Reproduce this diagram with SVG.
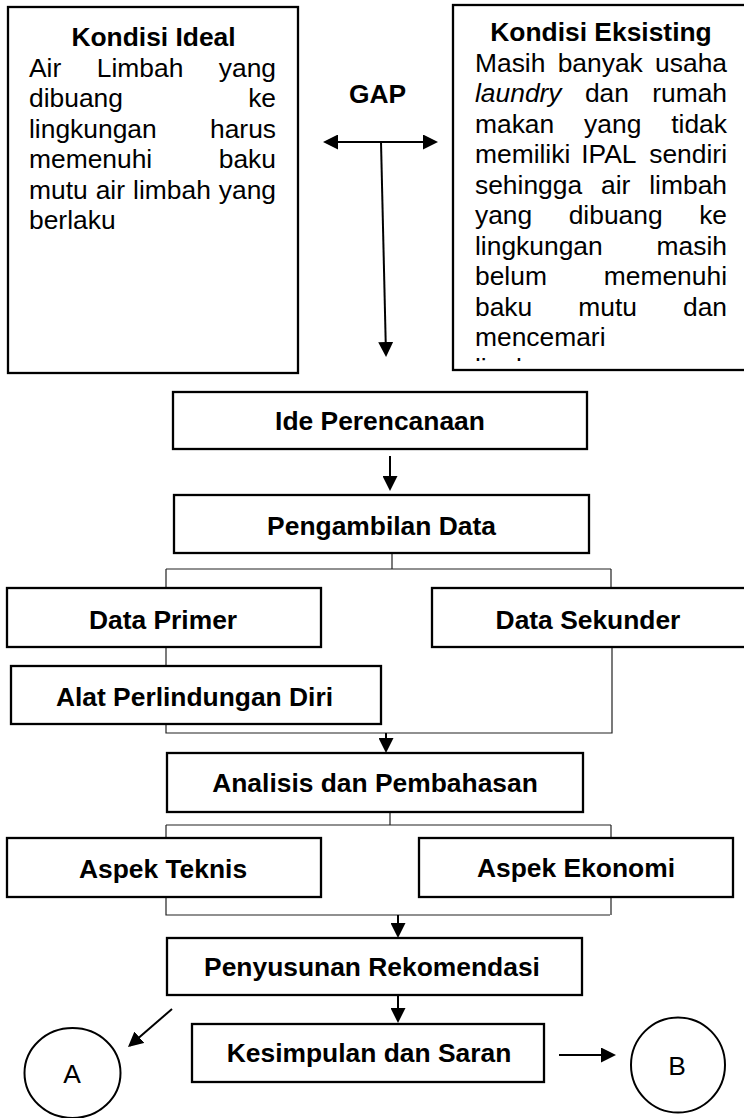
<svg xmlns="http://www.w3.org/2000/svg" width="744" height="1118" viewBox="0 0 744 1118">
<style>
.box{fill:#fff;stroke:#000;stroke-width:2.3}
.t{font-family:"Liberation Sans",Arial,sans-serif;font-size:26.4px;fill:#000}
.b{font-weight:bold;text-anchor:middle}
.e{text-anchor:end}
.thin{fill:none;stroke:#222;stroke-width:1.2}
.arr{fill:none;stroke:#000;stroke-width:2;marker-end:url(#ah)}
</style>
<defs>
<marker id="ah" markerUnits="userSpaceOnUse" markerWidth="15" markerHeight="15" refX="13" refY="7.5" orient="auto-start-reverse">
<path d="M0,0 L15,7.5 L0,15 z" fill="#000"/>
</marker>
<clipPath id="clipEks"><rect x="453" y="0" width="300" height="361"/></clipPath>
</defs>
<rect width="744" height="1118" fill="#fff"/>

<g id="connectors">
<path class="thin" d="M392,553 V569 M166,569 H611 M166,569 V588 M611,569 V588"/>
<path class="thin" d="M166,647 V666"/>
<path class="thin" d="M166,724 V733 H612 V647"/>
<path class="thin" d="M390,812 V825 M166,825 H611 M166,825 V915 H610 M611,825 V915"/>
<line class="arr" x1="325" y1="142" x2="436" y2="142" marker-start="url(#ah)"/>
<line class="arr" x1="381" y1="142" x2="386" y2="355"/>
<line class="arr" x1="390" y1="456" x2="390" y2="489"/>
<line class="arr" x1="386" y1="733" x2="386" y2="751"/>
<line class="arr" x1="398" y1="915" x2="398" y2="936"/>
<line class="arr" x1="398" y1="995" x2="398" y2="1021"/>
<line class="arr" x1="559" y1="1055" x2="614" y2="1055"/>
<line class="arr" x1="172" y1="1009" x2="129.5" y2="1045.7"/>
</g>

<g id="kondisi-ideal">
<rect class="box" x="8" y="7" width="290" height="366"/>
<text class="t b" x="153.5" y="46">Kondisi Ideal</text>
<text class="t" x="29" y="76.5">Air</text><text class="t" x="96.75" y="76.5">Limbah</text><text class="t e" x="276" y="76.5">yang</text>
<text class="t" x="29" y="107">dibuang</text><text class="t e" x="276" y="107">ke</text>
<text class="t" x="29" y="137.5">lingkungan</text><text class="t e" x="276" y="137.5">harus</text>
<text class="t" x="29" y="168">memenuhi</text><text class="t e" x="276" y="168">baku</text>
<text class="t" x="29" y="198.5">mutu</text><text class="t" x="95.7" y="198.5">air</text><text class="t" x="133.1" y="198.5">limbah</text><text class="t e" x="276" y="198.5">yang</text>
<text class="t" x="29" y="229">berlaku</text>
</g>

<g id="gap">
<text class="t b" x="377.5" y="103">GAP</text>
</g>

<g id="kondisi-eksisting">
<rect class="box" x="453" y="5" width="300" height="365"/>
<text class="t b" x="601" y="41">Kondisi Eksisting</text>
<text class="t" x="475" y="71.7">Masih</text><text class="t" x="557.7" y="71.7">banyak</text><text class="t e" x="727" y="71.7">usaha</text>
<text class="t" x="475" y="102.2" font-style="italic">laundry</text><text class="t" x="584.9" y="102.2">dan</text><text class="t e" x="727" y="102.2">rumah</text>
<text class="t" x="475" y="132.7">makan</text><text class="t" x="584.1" y="132.7">yang</text><text class="t e" x="727" y="132.7">tidak</text>
<text class="t" x="475" y="163.2">memiliki</text><text class="t" x="581.2" y="163.2">IPAL</text><text class="t e" x="727" y="163.2">sendiri</text>
<text class="t" x="475" y="193.7">sehingga</text><text class="t" x="601" y="193.7">air</text><text class="t e" x="727" y="193.7">limbah</text>
<text class="t" x="475" y="224.2">yang</text><text class="t" x="568.7" y="224.2">dibuang</text><text class="t e" x="727" y="224.2">ke</text>
<text class="t" x="475" y="254.7">lingkungan</text><text class="t e" x="727" y="254.7">masih</text>
<text class="t" x="475" y="285.2">belum</text><text class="t e" x="727" y="285.2">memenuhi</text>
<text class="t" x="475" y="315.7">baku</text><text class="t" x="578.25" y="315.7">mutu</text><text class="t e" x="727" y="315.7">dan</text>
<text class="t" x="475" y="346.2">mencemari</text>
<text class="t" x="475" y="376.7" clip-path="url(#clipEks)">lingkungan</text>
</g>

<g id="ide-perencanaan">
<rect class="box" x="173" y="392" width="414" height="57"/>
<text class="t b" x="380" y="430">Ide Perencanaan</text>
</g>

<g id="pengambilan-data">
<rect class="box" x="174" y="495" width="415" height="58"/>
<text class="t b" x="381.5" y="535">Pengambilan Data</text>
</g>

<g id="data-primer">
<rect class="box" x="7" y="588" width="314" height="59"/>
<text class="t b" x="163" y="629">Data Primer</text>
</g>

<g id="data-sekunder">
<rect class="box" x="432" y="588" width="316" height="59"/>
<text class="t b" x="588" y="629">Data Sekunder</text>
</g>

<g id="alat-perlindungan-diri">
<rect class="box" x="11" y="666" width="370" height="58"/>
<text class="t b" x="194.5" y="706">Alat Perlindungan Diri</text>
</g>

<g id="analisis">
<rect class="box" x="167" y="753" width="416" height="59"/>
<text class="t b" x="375" y="792">Analisis dan Pembahasan</text>
</g>

<g id="aspek-teknis">
<rect class="box" x="7" y="838" width="314" height="59"/>
<text class="t b" x="163" y="878">Aspek Teknis</text>
</g>

<g id="aspek-ekonomi">
<rect class="box" x="419" y="838" width="314" height="59"/>
<text class="t b" x="576" y="877">Aspek Ekonomi</text>
</g>

<g id="penyusunan-rekomendasi">
<rect class="box" x="167" y="938" width="415" height="57"/>
<text class="t b" x="372" y="976">Penyusunan Rekomendasi</text>
</g>

<g id="kesimpulan-saran">
<rect class="box" x="192" y="1024" width="352" height="58"/>
<text class="t b" x="369" y="1062">Kesimpulan dan Saran</text>
</g>

<g id="circle-a">
<ellipse cx="72.5" cy="1073" rx="48" ry="45" fill="#fff" stroke="#000" stroke-width="2"/>
<text class="t" x="72" y="1083" text-anchor="middle" font-size="25">A</text>
</g>

<g id="circle-b">
<ellipse cx="678" cy="1065" rx="47" ry="47.5" fill="#fff" stroke="#000" stroke-width="2"/>
<text class="t" x="677" y="1075" text-anchor="middle" font-size="25">B</text>
</g>
</svg>
